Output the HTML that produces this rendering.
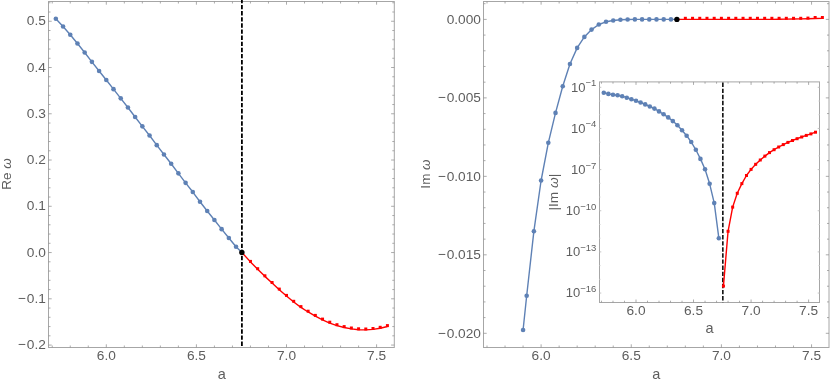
<!DOCTYPE html>
<html><head><meta charset="utf-8"><title>plot</title>
<style>
html,body{margin:0;padding:0;background:#fff;}
body{width:830px;height:383px;overflow:hidden;}
svg{display:block;will-change:transform;}
svg text{font-family:"Liberation Sans",sans-serif;fill:#5e5e5e;}
</style></head><body>
<svg width="830" height="383" viewBox="0 0 830 383">
<rect width="830" height="383" fill="#fff"/>
<rect x="48.5" y="1.5" width="345.8" height="346.0" fill="none" stroke="#a6a6a6" stroke-width="1"/>
<path d="M52.24 347.5v-2.0M52.24 1.5v2.0M70.26 347.5v-2.0M70.26 1.5v2.0M88.28 347.5v-2.0M88.28 1.5v2.0M124.32 347.5v-2.0M124.32 1.5v2.0M142.34 347.5v-2.0M142.34 1.5v2.0M160.36 347.5v-2.0M160.36 1.5v2.0M178.38 347.5v-2.0M178.38 1.5v2.0M214.42 347.5v-2.0M214.42 1.5v2.0M232.44 347.5v-2.0M232.44 1.5v2.0M250.46 347.5v-2.0M250.46 1.5v2.0M268.48 347.5v-2.0M268.48 1.5v2.0M304.52 347.5v-2.0M304.52 1.5v2.0M322.54 347.5v-2.0M322.54 1.5v2.0M340.56 347.5v-2.0M340.56 1.5v2.0M358.58 347.5v-2.0M358.58 1.5v2.0" fill="none" stroke="#909090" stroke-width="0.75" />
<path d="M106.3 347.5v-3.2M106.3 1.5v3.2M196.4 347.5v-3.2M196.4 1.5v3.2M286.5 347.5v-3.2M286.5 1.5v3.2M376.6 347.5v-3.2M376.6 1.5v3.2" fill="none" stroke="#909090" stroke-width="0.75" />
<path d="M48.5 335.82h2.0M394.3 335.82h-2.0M48.5 326.57h2.0M394.3 326.57h-2.0M48.5 317.31h2.0M394.3 317.31h-2.0M48.5 308.06h2.0M394.3 308.06h-2.0M48.5 289.56h2.0M394.3 289.56h-2.0M48.5 280.31h2.0M394.3 280.31h-2.0M48.5 271.05h2.0M394.3 271.05h-2.0M48.5 261.8h2.0M394.3 261.8h-2.0M48.5 243.3h2.0M394.3 243.3h-2.0M48.5 234.05h2.0M394.3 234.05h-2.0M48.5 224.79h2.0M394.3 224.79h-2.0M48.5 215.54h2.0M394.3 215.54h-2.0M48.5 197.04h2.0M394.3 197.04h-2.0M48.5 187.79h2.0M394.3 187.79h-2.0M48.5 178.53h2.0M394.3 178.53h-2.0M48.5 169.28h2.0M394.3 169.28h-2.0M48.5 150.78h2.0M394.3 150.78h-2.0M48.5 141.53h2.0M394.3 141.53h-2.0M48.5 132.27h2.0M394.3 132.27h-2.0M48.5 123.02h2.0M394.3 123.02h-2.0M48.5 104.52h2.0M394.3 104.52h-2.0M48.5 95.27h2.0M394.3 95.27h-2.0M48.5 86.01h2.0M394.3 86.01h-2.0M48.5 76.76h2.0M394.3 76.76h-2.0M48.5 58.26h2.0M394.3 58.26h-2.0M48.5 49.01h2.0M394.3 49.01h-2.0M48.5 39.75h2.0M394.3 39.75h-2.0M48.5 30.5h2.0M394.3 30.5h-2.0M48.5 12h2.0M394.3 12h-2.0M48.5 2.75h2.0M394.3 2.75h-2.0" fill="none" stroke="#909090" stroke-width="0.75" />
<path d="M48.5 345.07h3.2M394.3 345.07h-3.2M48.5 298.81h3.2M394.3 298.81h-3.2M48.5 252.55h3.2M394.3 252.55h-3.2M48.5 206.29h3.2M394.3 206.29h-3.2M48.5 160.03h3.2M394.3 160.03h-3.2M48.5 113.77h3.2M394.3 113.77h-3.2M48.5 67.51h3.2M394.3 67.51h-3.2M48.5 21.25h3.2M394.3 21.25h-3.2" fill="none" stroke="#909090" stroke-width="0.75" />
<text x="106.3" y="359.8" text-anchor="middle" font-size="13.7" >6.0</text>
<text x="196.4" y="359.8" text-anchor="middle" font-size="13.7" >6.5</text>
<text x="286.5" y="359.8" text-anchor="middle" font-size="13.7" >7.0</text>
<text x="376.6" y="359.8" text-anchor="middle" font-size="13.7" >7.5</text>
<text x="45.9" y="349.27" text-anchor="end" font-size="13.7" >−<tspan dx="1">0.2</tspan></text>
<text x="45.9" y="303.01" text-anchor="end" font-size="13.7" >−<tspan dx="1">0.1</tspan></text>
<text x="45.9" y="256.75" text-anchor="end" font-size="13.7" >0.0</text>
<text x="45.9" y="210.49" text-anchor="end" font-size="13.7" >0.1</text>
<text x="45.9" y="164.23" text-anchor="end" font-size="13.7" >0.2</text>
<text x="45.9" y="117.97" text-anchor="end" font-size="13.7" >0.3</text>
<text x="45.9" y="71.71" text-anchor="end" font-size="13.7" >0.4</text>
<text x="45.9" y="25.45" text-anchor="end" font-size="13.7" >0.5</text>
<text x="221.8" y="378.6" text-anchor="middle" font-size="14.5" >a</text>
<text transform="translate(10.5,174) rotate(-90)" text-anchor="middle" font-size="13.5">Re <tspan font-style="italic">ω</tspan></text>
<path d="M241.9 -1.15V347.5" fill="none" stroke="#000" stroke-width="1.8" stroke-dasharray="4.4 1.72"/>
<path d="M55.84 18.7L63.05 26.45L70.26 34.75L77.47 43.55L84.68 52.55L91.88 61.85L99.09 70.95L106.3 80.05L113.51 89.15L120.72 98.35L127.92 107.55L135.13 116.95L142.34 126.35L149.55 135.55L156.76 145.15L163.96 154.55L171.17 163.75L178.38 173.35L185.59 182.85L192.8 192.05L200 201.75L207.21 210.95L214.42 220.05L221.63 229.15L228.84 238.05L236.04 246.75L241.9 252.5" fill="none" stroke="#5e81b5" stroke-width="1.4" stroke-linejoin="round"/>
<circle cx="55.84" cy="18.7" r="2.3" fill="#5e81b5"/>
<circle cx="63.05" cy="26.45" r="2.3" fill="#5e81b5"/>
<circle cx="70.26" cy="34.75" r="2.3" fill="#5e81b5"/>
<circle cx="77.47" cy="43.55" r="2.3" fill="#5e81b5"/>
<circle cx="84.68" cy="52.55" r="2.3" fill="#5e81b5"/>
<circle cx="91.88" cy="61.85" r="2.3" fill="#5e81b5"/>
<circle cx="99.09" cy="70.95" r="2.3" fill="#5e81b5"/>
<circle cx="106.3" cy="80.05" r="2.3" fill="#5e81b5"/>
<circle cx="113.51" cy="89.15" r="2.3" fill="#5e81b5"/>
<circle cx="120.72" cy="98.35" r="2.3" fill="#5e81b5"/>
<circle cx="127.92" cy="107.55" r="2.3" fill="#5e81b5"/>
<circle cx="135.13" cy="116.95" r="2.3" fill="#5e81b5"/>
<circle cx="142.34" cy="126.35" r="2.3" fill="#5e81b5"/>
<circle cx="149.55" cy="135.55" r="2.3" fill="#5e81b5"/>
<circle cx="156.76" cy="145.15" r="2.3" fill="#5e81b5"/>
<circle cx="163.96" cy="154.55" r="2.3" fill="#5e81b5"/>
<circle cx="171.17" cy="163.75" r="2.3" fill="#5e81b5"/>
<circle cx="178.38" cy="173.35" r="2.3" fill="#5e81b5"/>
<circle cx="185.59" cy="182.85" r="2.3" fill="#5e81b5"/>
<circle cx="192.8" cy="192.05" r="2.3" fill="#5e81b5"/>
<circle cx="200" cy="201.75" r="2.3" fill="#5e81b5"/>
<circle cx="207.21" cy="210.95" r="2.3" fill="#5e81b5"/>
<circle cx="214.42" cy="220.05" r="2.3" fill="#5e81b5"/>
<circle cx="221.63" cy="229.15" r="2.3" fill="#5e81b5"/>
<circle cx="228.84" cy="238.05" r="2.3" fill="#5e81b5"/>
<circle cx="236.04" cy="246.75" r="2.3" fill="#5e81b5"/>
<path d="M241.9 252.5L250.46 261.9L257.67 269.23L264.88 276.37L272.08 283.1L279.29 289.73L286.5 296.07L293.71 302L300.92 307.33L308.12 311.97L315.33 316.2L322.54 319.93L329.75 323.07L336.96 325.6L344.16 327.5L351.37 328.9L358.58 329.7L365.79 329.9L373 329.4L380.2 328.2L387.41 326.5" fill="none" stroke="#ff0000" stroke-width="1.4" stroke-linejoin="round"/>
<rect x="248.96" y="259.9" width="3" height="3" fill="#ff0000"/>
<rect x="256.17" y="267.2" width="3" height="3" fill="#ff0000"/>
<rect x="263.38" y="274.3" width="3" height="3" fill="#ff0000"/>
<rect x="270.58" y="281" width="3" height="3" fill="#ff0000"/>
<rect x="277.79" y="287.6" width="3" height="3" fill="#ff0000"/>
<rect x="285" y="293.9" width="3" height="3" fill="#ff0000"/>
<rect x="292.21" y="299.8" width="3" height="3" fill="#ff0000"/>
<rect x="299.42" y="305.1" width="3" height="3" fill="#ff0000"/>
<rect x="306.62" y="309.7" width="3" height="3" fill="#ff0000"/>
<rect x="313.83" y="313.9" width="3" height="3" fill="#ff0000"/>
<rect x="321.04" y="317.6" width="3" height="3" fill="#ff0000"/>
<rect x="328.25" y="320.7" width="3" height="3" fill="#ff0000"/>
<rect x="335.46" y="323.2" width="3" height="3" fill="#ff0000"/>
<rect x="342.66" y="325.1" width="3" height="3" fill="#ff0000"/>
<rect x="349.87" y="326.5" width="3" height="3" fill="#ff0000"/>
<rect x="357.08" y="327.3" width="3" height="3" fill="#ff0000"/>
<rect x="364.29" y="327.5" width="3" height="3" fill="#ff0000"/>
<rect x="371.5" y="327" width="3" height="3" fill="#ff0000"/>
<rect x="378.7" y="325.8" width="3" height="3" fill="#ff0000"/>
<rect x="385.91" y="324.1" width="3" height="3" fill="#ff0000"/>
<circle cx="241.9" cy="252.5" r="2.7" fill="#000"/>
<rect x="483.5" y="1.5" width="345.5" height="346.0" fill="none" stroke="#a6a6a6" stroke-width="1"/>
<path d="M487.01 347.5v-2.0M487.01 1.5v2.0M505.04 347.5v-2.0M505.04 1.5v2.0M523.07 347.5v-2.0M523.07 1.5v2.0M559.13 347.5v-2.0M559.13 1.5v2.0M577.16 347.5v-2.0M577.16 1.5v2.0M595.19 347.5v-2.0M595.19 1.5v2.0M613.22 347.5v-2.0M613.22 1.5v2.0M649.28 347.5v-2.0M649.28 1.5v2.0M667.31 347.5v-2.0M667.31 1.5v2.0M685.34 347.5v-2.0M685.34 1.5v2.0M703.37 347.5v-2.0M703.37 1.5v2.0M739.43 347.5v-2.0M739.43 1.5v2.0M757.46 347.5v-2.0M757.46 1.5v2.0M775.49 347.5v-2.0M775.49 1.5v2.0M793.52 347.5v-2.0M793.52 1.5v2.0" fill="none" stroke="#909090" stroke-width="0.75" />
<path d="M541.1 347.5v-3.2M541.1 1.5v3.2M631.25 347.5v-3.2M631.25 1.5v3.2M721.4 347.5v-3.2M721.4 1.5v3.2M811.55 347.5v-3.2M811.55 1.5v3.2" fill="none" stroke="#909090" stroke-width="0.75" />
<path d="M483.5 317.6h2.0M829.0 317.6h-2.0M483.5 301.91h2.0M829.0 301.91h-2.0M483.5 286.21h2.0M829.0 286.21h-2.0M483.5 270.52h2.0M829.0 270.52h-2.0M483.5 239.13h2.0M829.0 239.13h-2.0M483.5 223.43h2.0M829.0 223.43h-2.0M483.5 207.74h2.0M829.0 207.74h-2.0M483.5 192.04h2.0M829.0 192.04h-2.0M483.5 160.65h2.0M829.0 160.65h-2.0M483.5 144.96h2.0M829.0 144.96h-2.0M483.5 129.26h2.0M829.0 129.26h-2.0M483.5 113.57h2.0M829.0 113.57h-2.0M483.5 82.18h2.0M829.0 82.18h-2.0M483.5 66.48h2.0M829.0 66.48h-2.0M483.5 50.79h2.0M829.0 50.79h-2.0M483.5 35.09h2.0M829.0 35.09h-2.0M483.5 3.7h2.0M829.0 3.7h-2.0" fill="none" stroke="#909090" stroke-width="0.75" />
<path d="M483.5 333.3h3.2M829.0 333.3h-3.2M483.5 254.82h3.2M829.0 254.82h-3.2M483.5 176.35h3.2M829.0 176.35h-3.2M483.5 97.88h3.2M829.0 97.88h-3.2M483.5 19.4h3.2M829.0 19.4h-3.2" fill="none" stroke="#909090" stroke-width="0.75" />
<text x="541.1" y="359.8" text-anchor="middle" font-size="13.7" >6.0</text>
<text x="631.25" y="359.8" text-anchor="middle" font-size="13.7" >6.5</text>
<text x="721.4" y="359.8" text-anchor="middle" font-size="13.7" >7.0</text>
<text x="811.55" y="359.8" text-anchor="middle" font-size="13.7" >7.5</text>
<text x="480.9" y="337.6" text-anchor="end" font-size="13.7" >−<tspan dx="1">0.020</tspan></text>
<text x="480.9" y="259.12" text-anchor="end" font-size="13.7" >−<tspan dx="1">0.015</tspan></text>
<text x="480.9" y="180.65" text-anchor="end" font-size="13.7" >−<tspan dx="1">0.010</tspan></text>
<text x="480.9" y="102.17" text-anchor="end" font-size="13.7" >−<tspan dx="1">0.005</tspan></text>
<text x="480.9" y="23.7" text-anchor="end" font-size="13.7" >0.000</text>
<text x="656.3" y="378.6" text-anchor="middle" font-size="14.5" >a</text>
<text transform="translate(430.4,174) rotate(-90)" text-anchor="middle" font-size="13.5">Im <tspan font-style="italic">ω</tspan></text>
<path d="M523.07 330L526.68 295.7L533.89 231.2L541.1 180.5L548.31 142.8L555.52 112.9L562.74 86.3L569.95 64L577.16 47.9L584.37 36.9L591.58 29.6L598.8 24.5L606.01 21.8L613.22 20.5L620.43 19.8L627.64 19.5L634.86 19.4L642.07 19.4L649.28 19.4L656.49 19.4L663.7 19.4L670.92 19.4L676.9 19.4" fill="none" stroke="#5e81b5" stroke-width="1.4" stroke-linejoin="round"/>
<circle cx="523.07" cy="330" r="2.3" fill="#5e81b5"/>
<circle cx="526.68" cy="295.7" r="2.3" fill="#5e81b5"/>
<circle cx="533.89" cy="231.2" r="2.3" fill="#5e81b5"/>
<circle cx="541.1" cy="180.5" r="2.3" fill="#5e81b5"/>
<circle cx="548.31" cy="142.8" r="2.3" fill="#5e81b5"/>
<circle cx="555.52" cy="112.9" r="2.3" fill="#5e81b5"/>
<circle cx="562.74" cy="86.3" r="2.3" fill="#5e81b5"/>
<circle cx="569.95" cy="64" r="2.3" fill="#5e81b5"/>
<circle cx="577.16" cy="47.9" r="2.3" fill="#5e81b5"/>
<circle cx="584.37" cy="36.9" r="2.3" fill="#5e81b5"/>
<circle cx="591.58" cy="29.6" r="2.3" fill="#5e81b5"/>
<circle cx="598.8" cy="24.5" r="2.3" fill="#5e81b5"/>
<circle cx="606.01" cy="21.8" r="2.3" fill="#5e81b5"/>
<circle cx="613.22" cy="20.5" r="2.3" fill="#5e81b5"/>
<circle cx="620.43" cy="19.8" r="2.3" fill="#5e81b5"/>
<circle cx="627.64" cy="19.5" r="2.3" fill="#5e81b5"/>
<circle cx="634.86" cy="19.4" r="2.3" fill="#5e81b5"/>
<circle cx="642.07" cy="19.4" r="2.3" fill="#5e81b5"/>
<circle cx="649.28" cy="19.4" r="2.3" fill="#5e81b5"/>
<circle cx="656.49" cy="19.4" r="2.3" fill="#5e81b5"/>
<circle cx="663.7" cy="19.4" r="2.3" fill="#5e81b5"/>
<circle cx="670.92" cy="19.4" r="2.3" fill="#5e81b5"/>
<path d="M676.9 19.4L685.34 19.4L692.55 19.4L699.76 19.4L706.98 19.4L714.19 19.4L721.4 19.4L728.61 19.4L735.82 19.4L743.04 19.4L750.25 19.4L757.46 19.4L764.67 19.4L771.88 19.4L779.1 19.32L786.31 19.17L793.52 19.02L800.73 18.86L807.94 18.71L815.16 18.55L822.37 18.4" fill="none" stroke="#ff0000" stroke-width="1.4" stroke-linejoin="round"/>
<rect x="683.84" y="16.8" width="3" height="3" fill="#ff0000"/>
<rect x="691.05" y="16.8" width="3" height="3" fill="#ff0000"/>
<rect x="698.26" y="16.8" width="3" height="3" fill="#ff0000"/>
<rect x="705.48" y="16.8" width="3" height="3" fill="#ff0000"/>
<rect x="712.69" y="16.8" width="3" height="3" fill="#ff0000"/>
<rect x="719.9" y="16.8" width="3" height="3" fill="#ff0000"/>
<rect x="727.11" y="16.8" width="3" height="3" fill="#ff0000"/>
<rect x="734.32" y="16.8" width="3" height="3" fill="#ff0000"/>
<rect x="741.54" y="16.8" width="3" height="3" fill="#ff0000"/>
<rect x="748.75" y="16.8" width="3" height="3" fill="#ff0000"/>
<rect x="755.96" y="16.8" width="3" height="3" fill="#ff0000"/>
<rect x="763.17" y="16.8" width="3" height="3" fill="#ff0000"/>
<rect x="770.38" y="16.8" width="3" height="3" fill="#ff0000"/>
<rect x="777.6" y="16.8" width="3" height="3" fill="#ff0000"/>
<rect x="784.81" y="16.8" width="3" height="3" fill="#ff0000"/>
<rect x="792.02" y="16.8" width="3" height="3" fill="#ff0000"/>
<rect x="799.23" y="16.8" width="3" height="3" fill="#ff0000"/>
<rect x="806.44" y="16.6" width="3" height="3" fill="#ff0000"/>
<rect x="813.66" y="16" width="3" height="3" fill="#ff0000"/>
<rect x="820.87" y="16" width="3" height="3" fill="#ff0000"/>
<circle cx="676.9" cy="19.4" r="2.7" fill="#000"/>
<rect x="599.5" y="81.9" width="220.0" height="220.6" fill="#fff" stroke="none"/>
<rect x="599.5" y="81.9" width="220.0" height="220.6" fill="none" stroke="#a6a6a6" stroke-width="1"/>
<path d="M601.48 302.5v-1.8M601.48 81.9v1.8M612.99 302.5v-1.8M612.99 81.9v1.8M624.49 302.5v-1.8M624.49 81.9v1.8M647.51 302.5v-1.8M647.51 81.9v1.8M659.01 302.5v-1.8M659.01 81.9v1.8M670.52 302.5v-1.8M670.52 81.9v1.8M682.03 302.5v-1.8M682.03 81.9v1.8M705.04 302.5v-1.8M705.04 81.9v1.8M716.55 302.5v-1.8M716.55 81.9v1.8M728.06 302.5v-1.8M728.06 81.9v1.8M739.56 302.5v-1.8M739.56 81.9v1.8M762.58 302.5v-1.8M762.58 81.9v1.8M774.08 302.5v-1.8M774.08 81.9v1.8M785.59 302.5v-1.8M785.59 81.9v1.8M797.1 302.5v-1.8M797.1 81.9v1.8" fill="none" stroke="#909090" stroke-width="0.75" />
<path d="M636 302.5v-3.0M636 81.9v3.0M693.53 302.5v-3.0M693.53 81.9v3.0M751.07 302.5v-3.0M751.07 81.9v3.0M808.61 302.5v-3.0M808.61 81.9v3.0" fill="none" stroke="#909090" stroke-width="0.75" />
<path d="M599.5 279.34h1.2M819.5 279.34h-1.2M599.5 265.62h1.2M819.5 265.62h-1.2M599.5 238.19h1.2M819.5 238.19h-1.2M599.5 224.47h1.2M819.5 224.47h-1.2M599.5 197.04h1.2M819.5 197.04h-1.2M599.5 183.32h1.2M819.5 183.32h-1.2M599.5 155.88h1.2M819.5 155.88h-1.2M599.5 142.17h1.2M819.5 142.17h-1.2M599.5 114.73h1.2M819.5 114.73h-1.2M599.5 101.02h1.2M819.5 101.02h-1.2" fill="none" stroke="#dcdcdc" stroke-width="1" />
<path d="M599.5 87.3h1.8M819.5 87.3h-1.8M599.5 128.45h1.8M819.5 128.45h-1.8M599.5 169.6h1.8M819.5 169.6h-1.8M599.5 210.75h1.8M819.5 210.75h-1.8M599.5 251.9h1.8M819.5 251.9h-1.8M599.5 293.06h1.8M819.5 293.06h-1.8" fill="none" stroke="#c4c4c4" stroke-width="1" />
<text x="636" y="314.7" text-anchor="middle" font-size="13.7" >6.0</text>
<text x="693.53" y="314.7" text-anchor="middle" font-size="13.7" >6.5</text>
<text x="751.07" y="314.7" text-anchor="middle" font-size="13.7" >7.0</text>
<text x="808.61" y="314.7" text-anchor="middle" font-size="13.7" >7.5</text>
<text x="596.3" y="91.7" text-anchor="end" font-size="13">10<tspan font-size="9.5" dy="-5.5">−1</tspan></text>
<text x="596.3" y="132.85" text-anchor="end" font-size="13">10<tspan font-size="9.5" dy="-5.5">−4</tspan></text>
<text x="596.3" y="174" text-anchor="end" font-size="13">10<tspan font-size="9.5" dy="-5.5">−7</tspan></text>
<text x="596.3" y="215.15" text-anchor="end" font-size="13">10<tspan font-size="9.5" dy="-5.5">−10</tspan></text>
<text x="596.3" y="256.3" text-anchor="end" font-size="13">10<tspan font-size="9.5" dy="-5.5">−13</tspan></text>
<text x="596.3" y="297.45" text-anchor="end" font-size="13">10<tspan font-size="9.5" dy="-5.5">−16</tspan></text>
<text x="709.5" y="333.3" text-anchor="middle" font-size="14.5" >a</text>
<text transform="translate(557.5,192.2) rotate(-90)" text-anchor="middle" font-size="13.7">|Im <tspan font-style="italic">ω</tspan>|</text>
<path d="M722.85 82.55V302.5" fill="none" stroke="#000" stroke-width="1.5" stroke-dasharray="4.4 1.70"/>
<path d="M603.78 92.8L608.38 93.9L612.99 94.7L617.59 95.3L622.19 96.2L626.79 97.7L631.4 99.2L636 100.8L640.6 102.5L645.21 104.4L649.81 106.5L654.41 108.6L659.01 111.4L663.62 114.3L668.22 117.4L672.82 121.1L677.43 125.3L682.03 130.2L686.63 135.7L691.23 142L695.84 149.8L700.44 158.9L705.04 169.3L709.64 183.8L714.25 203.1L718.85 238.2" fill="none" stroke="#5e81b5" stroke-width="1.4" stroke-linejoin="round"/>
<circle cx="603.78" cy="92.8" r="2.3" fill="#5e81b5"/>
<circle cx="608.38" cy="93.9" r="2.3" fill="#5e81b5"/>
<circle cx="612.99" cy="94.7" r="2.3" fill="#5e81b5"/>
<circle cx="617.59" cy="95.3" r="2.3" fill="#5e81b5"/>
<circle cx="622.19" cy="96.2" r="2.3" fill="#5e81b5"/>
<circle cx="626.79" cy="97.7" r="2.3" fill="#5e81b5"/>
<circle cx="631.4" cy="99.2" r="2.3" fill="#5e81b5"/>
<circle cx="636" cy="100.8" r="2.3" fill="#5e81b5"/>
<circle cx="640.6" cy="102.5" r="2.3" fill="#5e81b5"/>
<circle cx="645.21" cy="104.4" r="2.3" fill="#5e81b5"/>
<circle cx="649.81" cy="106.5" r="2.3" fill="#5e81b5"/>
<circle cx="654.41" cy="108.6" r="2.3" fill="#5e81b5"/>
<circle cx="659.01" cy="111.4" r="2.3" fill="#5e81b5"/>
<circle cx="663.62" cy="114.3" r="2.3" fill="#5e81b5"/>
<circle cx="668.22" cy="117.4" r="2.3" fill="#5e81b5"/>
<circle cx="672.82" cy="121.1" r="2.3" fill="#5e81b5"/>
<circle cx="677.43" cy="125.3" r="2.3" fill="#5e81b5"/>
<circle cx="682.03" cy="130.2" r="2.3" fill="#5e81b5"/>
<circle cx="686.63" cy="135.7" r="2.3" fill="#5e81b5"/>
<circle cx="691.23" cy="142" r="2.3" fill="#5e81b5"/>
<circle cx="695.84" cy="149.8" r="2.3" fill="#5e81b5"/>
<circle cx="700.44" cy="158.9" r="2.3" fill="#5e81b5"/>
<circle cx="705.04" cy="169.3" r="2.3" fill="#5e81b5"/>
<circle cx="709.64" cy="183.8" r="2.3" fill="#5e81b5"/>
<circle cx="714.25" cy="203.1" r="2.3" fill="#5e81b5"/>
<circle cx="718.85" cy="238.2" r="2.3" fill="#5e81b5"/>
<path d="M723.45 286.1L728.06 231.3L732.66 207.1L737.26 193.3L741.86 183.6L746.47 175.5L751.07 169.4L755.67 164.3L760.28 160L764.88 156.1L769.48 152.6L774.08 149.7L778.69 147L783.29 144.6L787.89 142.4L792.5 140.5L797.1 138.7L801.7 137L806.3 135.4L810.91 133.9L815.51 132.2" fill="none" stroke="#ff0000" stroke-width="1.4" stroke-linejoin="round"/>
<rect x="721.95" y="284.6" width="3" height="3" fill="#ff0000"/>
<rect x="726.56" y="229.8" width="3" height="3" fill="#ff0000"/>
<rect x="731.16" y="205.6" width="3" height="3" fill="#ff0000"/>
<rect x="735.76" y="191.8" width="3" height="3" fill="#ff0000"/>
<rect x="740.36" y="182.1" width="3" height="3" fill="#ff0000"/>
<rect x="744.97" y="174" width="3" height="3" fill="#ff0000"/>
<rect x="749.57" y="167.9" width="3" height="3" fill="#ff0000"/>
<rect x="754.17" y="162.8" width="3" height="3" fill="#ff0000"/>
<rect x="758.78" y="158.5" width="3" height="3" fill="#ff0000"/>
<rect x="763.38" y="154.6" width="3" height="3" fill="#ff0000"/>
<rect x="767.98" y="151.1" width="3" height="3" fill="#ff0000"/>
<rect x="772.58" y="148.2" width="3" height="3" fill="#ff0000"/>
<rect x="777.19" y="145.5" width="3" height="3" fill="#ff0000"/>
<rect x="781.79" y="143.1" width="3" height="3" fill="#ff0000"/>
<rect x="786.39" y="140.9" width="3" height="3" fill="#ff0000"/>
<rect x="791" y="139" width="3" height="3" fill="#ff0000"/>
<rect x="795.6" y="137.2" width="3" height="3" fill="#ff0000"/>
<rect x="800.2" y="135.5" width="3" height="3" fill="#ff0000"/>
<rect x="804.8" y="133.9" width="3" height="3" fill="#ff0000"/>
<rect x="809.41" y="132.4" width="3" height="3" fill="#ff0000"/>
<rect x="814.01" y="130.7" width="3" height="3" fill="#ff0000"/>
</svg>
</body></html>
